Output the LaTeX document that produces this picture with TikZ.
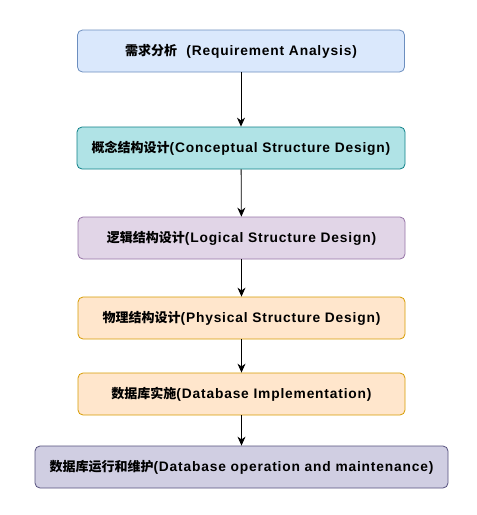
\documentclass[tikz,border=0pt]{standalone}
\usepackage{fontspec}
\setmainfont{Liberation Sans}[Scale=1.06, LetterSpace=6]
\newfontfamily\cjk{Noto Sans CJK SC}
\usetikzlibrary{arrows.meta}
\definecolor{blueFill}{HTML}{DAE8FC}
\definecolor{blueLine}{HTML}{6C8EBF}
\definecolor{tealFill}{HTML}{B0E3E6}
\definecolor{tealLine}{HTML}{0E8088}
\definecolor{purpFill}{HTML}{E1D5E7}
\definecolor{purpLine}{HTML}{9673A6}
\definecolor{orngFill}{HTML}{FFE6CC}
\definecolor{orngLine}{HTML}{D79B00}
\definecolor{slatFill}{HTML}{D0CEE2}
\definecolor{slatLine}{HTML}{56517E}
\begin{document}
\begin{tikzpicture}[x=1pt,y=-1pt,
  stage/.style={draw, rounded corners=5pt, line width=0.8pt, minimum height=42pt,
    minimum width=327pt, inner sep=0pt, font=\fontsize{13}{15}\selectfont\bfseries},
  flow/.style={-{Stealth[length=9pt,width=8pt]}, line width=0.8pt}]
\useasboundingbox (0,0) rectangle (477,515);
\node [stage, fill=blueFill, draw=blueLine] (req) at (241,51) {{\cjk 需求分析}\ \ (Requirement Analysis)};
\node [stage, fill=tealFill, draw=tealLine, minimum width=328pt] (con) at (241,148) {{\cjk 概念结构设计}(Conceptual Structure Design)};
\node [stage, fill=purpFill, draw=purpLine] (log) at (241.5,238) {{\cjk 逻辑结构设计}(Logical Structure Design)};
\node [stage, fill=orngFill, draw=orngLine] (phy) at (241.5,318) {{\cjk 物理结构设计}(Physical Structure Design)};
\node [stage, fill=orngFill, draw=orngLine] (imp) at (241.5,394) {{\cjk 数据库实施}(Database Implementation)};
\node [stage, fill=slatFill, draw=slatLine, minimum width=413pt] (run) at (241.5,467) {{\cjk 数据库运行和维护}(Database operation and maintenance)};
\draw [flow] (req) -- (con);
\draw [flow] (con) -- (log);
\draw [flow] (log) -- (phy);
\draw [flow] (phy) -- (imp);
\draw [flow] (imp) -- (run);
\end{tikzpicture}
\end{document}
